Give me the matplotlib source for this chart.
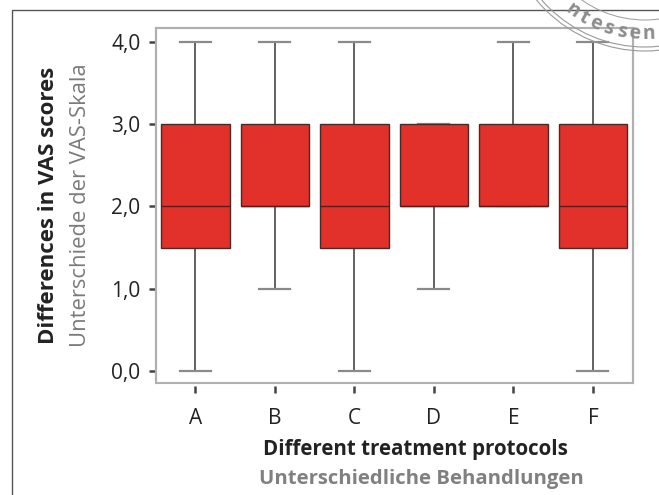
import numpy as np
import matplotlib
matplotlib.use('Agg')
import matplotlib.pyplot as plt
from matplotlib.patches import Rectangle, Circle

plt.rcParams['font.family'] = ['Open Sans', 'DejaVu Sans']

# box statistics
groups = ['A', 'B', 'C', 'D', 'E', 'F']
whis_lo = [0.0, 1.0, 0.0, 1.0, 2.0, 0.0]
q1 = [1.5, 2.0, 1.5, 2.0, 2.0, 1.5]
medians = [2.0, 2.0, 2.0, 2.0, 2.0, 2.0]
q3 = [3.0, 3.0, 3.0, 3.0, 3.0, 3.0]
whis_hi = [4.0, 4.0, 4.0, 3.0, 4.0, 4.0]
yticks = [0.0, 1.0, 2.0, 3.0, 4.0]
ytick_labels = ['0,0', '1,0', '2,0', '3,0', '4,0']

W, H = 659, 495
fig = plt.figure(figsize=(W / 100, H / 100), dpi=100)
ax = fig.add_axes([155.7 / W, 1 - 383 / H, 477 / W, 354.7 / H])

stats = []
for i in range(len(groups)):
    stats.append(dict(whislo=whis_lo[i], q1=q1[i], med=medians[i],
                      q3=q3[i], whishi=whis_hi[i], fliers=[]))

pos = np.arange(1, len(groups) + 1)
bp = ax.bxp(stats, positions=pos, widths=0.86, patch_artist=True,
            showfliers=False, capwidths=0.39,
            boxprops=dict(facecolor='#e2302b', edgecolor='#4a2a28', linewidth=1.0),
            medianprops=dict(color='#5a1c18', linewidth=1.0),
            whiskerprops=dict(color='#555555', linewidth=1.3),
            capprops=dict(color='#8a8a8a', linewidth=1.6))
# caps/whiskers behind the boxes so a cap sitting on a box edge is hidden
for ln in bp['caps'] + bp['whiskers']:
    ln.set_zorder(1.5)
for b in bp['boxes']:
    b.set_zorder(2)
for m in bp['medians']:
    m.set_zorder(2.1)

ax.set_xlim(0.5, 6.5)
ax.set_ylim(-0.146, 4.163)
ax.set_xticks(pos)
ax.set_xticklabels(groups)
ax.set_yticks(yticks)
ax.set_yticklabels(ytick_labels)

for s in ax.spines.values():
    s.set_color('#b0b0b0')
    s.set_linewidth(1.5)
ax.spines['bottom'].set_visible(False)
ax.spines['bottom'].set_position(('outward', 2))
ax.add_patch(Rectangle((0, 0), 1, 1, transform=ax.transAxes, fill=False,
                       edgecolor='#b0b0b0', linewidth=1.5, clip_on=False))
ax.tick_params(axis='both', colors='#444444', labelcolor='#222222',
               labelsize=15, length=5, width=1.8)
ax.tick_params(axis='y', pad=6)
ax.tick_params(axis='x', pad=11)

# axis titles, english bold + german grey
fig.text(49 / W, 1 - 205 / H, 'Differences in VAS scores', rotation=90,
         ha='center', va='center', fontsize=16, fontweight='bold', color='#222222')
fig.text(81 / W, 1 - 205 / H, 'Unterschiede der VAS-Skala', rotation=90,
         ha='center', va='center', fontsize=15.8, color='#7a7a7a')
fig.text(415 / W, 1 - 450 / H, 'Different treatment protocols',
         ha='center', va='center', fontsize=14.8, fontweight='bold', color='#222222')
fig.text(421 / W, 1 - 479 / H, 'Unterschiedliche Behandlungen',
         ha='center', va='center', fontsize=14.6, fontweight='bold', color='#808080')

# outer frame of the figure panel
fig.patches.append(Rectangle((12 / W, -0.1), 1.2, 1 - 10 / H + 0.1,
                             transform=fig.transFigure, fill=False,
                             edgecolor='#555555', linewidth=1.0))

# publisher stamp in the corner (only part of it is on the page)
cx, cy = 645, H + 90
for r, lw in [(141, 0.8), (137, 0.8), (110, 0.7)]:
    fig.patches.append(Circle((cx, cy), r, transform=None, fill=False,
                              edgecolor='#9a9a9a', linewidth=lw))
stamp = 'ntessen'
for k, ch in enumerate(stamp):
    a = np.deg2rad(-90 - 36 + 6.25 * k)
    fig.text(cx + 124 * np.cos(a), cy + 124 * np.sin(a), ch, transform=None,
             rotation=np.rad2deg(a) + 90, ha='center', va='center',
             rotation_mode='anchor', fontsize=14, fontweight='bold', color='#8c8c8c')

fig.savefig('out.png', dpi=100)
